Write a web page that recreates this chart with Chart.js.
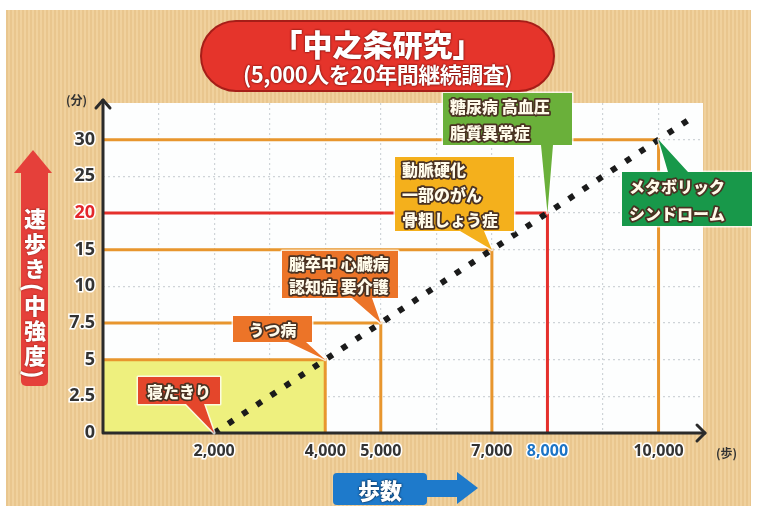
<!DOCTYPE html>
<html lang="ja">
<head>
<meta charset="utf-8">
<script src="https://cdn.jsdelivr.net/npm/chart.js@4.4.0/dist/chart.umd.min.js"></script>
<style>
  html, body { margin: 0; padding: 0; background: #fff; }
  #wrap { position: relative; width: 758px; height: 510px; overflow: hidden; font-family: "Noto Sans CJK JP", sans-serif; }
  #paper { position: absolute; left: 6px; top: 10px; width: 745px; height: 496px;
    background: repeating-linear-gradient(90deg, #E9C68E 0 2px, #F0D19D 2px 4px); }
  #chart { position: absolute; left: 0; top: 0; }
  .pill { position: absolute; left: 200px; top: 20px; width: 351px; height: 68px; border-radius: 36px;
    background: #E5342B; border: 2px solid #A61E18; color: #fff; text-align: center; font-weight: 900; }
  .pill .t1 { font-size: 30px; line-height: 34px; margin-top: 4px; text-shadow: 0 0 2px #7a120e, 0 0 2px #7a120e; }
  .pill .t2 { font-size: 22px; line-height: 26px; letter-spacing: -0.5px; font-weight: 700; text-shadow: 0 0 2px #7a120e, 0 0 2px #7a120e; }
  .unit { position: absolute; font-size: 12px; font-weight: 700; color: #333; }
  .uphead { position: absolute; left: 14px; top: 150px; width: 38px; height: 23px; background: #E5403A;
    clip-path: polygon(50% 0, 100% 100%, 0 100%); }
  .upbody { position: absolute; left: 21px; top: 172px; width: 27px; height: 214px; background: #E5403A;
    border-radius: 0 0 5px 5px; }
  .upbody span { position: absolute; left: 0; top: 36px; width: 27px; writing-mode: vertical-rl; white-space: nowrap;
    font-size: 22px; font-weight: 900; color: #fff; line-height: 27px; letter-spacing: 3px; text-shadow: 0 0 2px #7a1a12; }
  .xbox { position: absolute; left: 333px; top: 473px; width: 94px; height: 32px; background: #1E7ACB;
    border-radius: 4px; color: #fff; font-size: 22px; font-weight: 900; text-align: center; line-height: 32px;
    text-shadow: 0 0 2px #0b2f55, 0 0 2px #0b2f55; }
  .xshaft { position: absolute; left: 425px; top: 480px; width: 34px; height: 17px; background: #1E7ACB; }
  .xhead { position: absolute; left: 457px; top: 472px; width: 21px; height: 32px; background: #1E7ACB;
    clip-path: polygon(0 0, 100% 50%, 0 100%); }
</style>
</head>
<body>
<div id="wrap">
  <div id="paper"></div>
  <canvas id="chart" width="758" height="510"></canvas>
  <div class="pill"><div class="t1">「中之条研究」</div><div class="t2">(5,000人を20年間継続調査)</div></div>
  <div class="unit" style="left:66px; top:91px;">(分)</div>
  <div class="unit" style="left:716px; top:444px;">(歩)</div>
  <div class="uphead"></div>
  <div class="upbody"><span>速歩き(中強度)</span></div>
  <div class="xbox">歩数</div>
  <div class="xshaft"></div>
  <div class="xhead"></div>
</div>
<script>
// 1日の歩数と速歩き時間(分)
const stepCounts = [2000, 4000, 5000, 7000, 8000, 10000, 10600];
const walkMinutes = [0, 5, 7.5, 15, 20, 30, 33];
const diseaseLabels = [
    ['寝たきり'],
    ['うつ病'],
    ['脳卒中 心臓病', '認知症 要介護'],
    ['動脈硬化', '一部のがん', '骨粗しょう症'],
    ['糖尿病 高血圧', '脂質異常症'],
    ['メタボリック', 'シンドローム']
];
const yTickLabels = ['0', '2.5', '5', '7.5', '10', '15', '20', '25', '30'];
const xTickValues = [2000, 4000, 5000, 7000, 8000, 10000];
const goalIndex = 4; // 8,000歩・20分

// 縦軸は 0〜10 が 2.5刻み、10〜30 が 5刻みで等間隔
function minutesToPos(m) {
    return m <= 10 ? m / 2.5 : 4 + (m - 10) / 5;
}

// 吹き出しの位置と色 (ピクセル)
const calloutStyles = [
    { box: [138, 377, 82, 27], base: [186, 204], fill: '#E4462B', align: 'center' },
    { box: [233, 316, 79, 26], base: [288, 306], fill: '#EC7428', align: 'center' },
    { box: [282, 251, 116, 47], base: [352, 372], fill: '#EC7428', align: 'left' },
    { box: [395, 157, 119, 74], base: [460, 484], fill: '#F4B01C', align: 'left' },
    { box: [443, 93, 129, 52], base: [541, 553], fill: '#6AB03A', align: 'left' },
    { box: [622, 172, 130, 54], base: [668, 688], fill: '#18984A', align: 'left', top: true }
];

const orange = '#E8962E';
const red = '#E5302C';

const datasets = [];
datasets.push({
    data: stepCounts.map((s, i) => ({ x: s, y: minutesToPos(walkMinutes[i]) })),
    borderColor: '#1b1b1b',
    borderWidth: 6,
    borderDash: [6, 11],
    borderCapStyle: 'butt',
    pointRadius: 0,
    fill: false
});
for (let i = 1; i <= 5; i++) {
    const p = minutesToPos(walkMinutes[i]);
    datasets.push({
        data: [{ x: 0, y: p }, { x: stepCounts[i], y: p }, { x: stepCounts[i], y: 0 }],
        borderColor: i === goalIndex ? red : orange,
        borderWidth: 3,
        pointRadius: 0,
        fill: false
    });
}
datasets.push({
    data: [{ x: 0, y: minutesToPos(walkMinutes[1]) }, { x: stepCounts[1], y: minutesToPos(walkMinutes[1]) }],
    borderWidth: 0,
    pointRadius: 0,
    backgroundColor: '#EEF07E',
    fill: 'origin'
});

function outlinedText(ctx, txt, x, y, fill, stroke, w) {
    ctx.lineJoin = 'round';
    ctx.lineWidth = w;
    ctx.strokeStyle = stroke;
    ctx.strokeText(txt, x, y);
    ctx.fillStyle = fill;
    ctx.fillText(txt, x, y);
}

const paperPlugin = {
    id: 'paper',
    beforeDraw(chart) {
        const { ctx, chartArea: a } = chart;
        ctx.save();
        ctx.fillStyle = '#FDFEFE';
        ctx.fillRect(a.left, a.top, a.right - a.left, a.bottom - a.top);
        ctx.restore();
    }
};

const overlayPlugin = {
    id: 'overlay',
    afterDatasetsDraw(chart) {
        const { ctx, chartArea: a } = chart;
        const xs = chart.scales.x, ys = chart.scales.y;
        ctx.save();
        // 軸と矢印
        ctx.strokeStyle = '#2b2b2b';
        ctx.lineWidth = 3;
        ctx.lineCap = 'round';
        ctx.lineJoin = 'round';
        ctx.beginPath();
        ctx.moveTo(a.left, a.top - 3);
        ctx.lineTo(a.left, a.bottom);
        ctx.lineTo(a.right + 2, a.bottom);
        ctx.stroke();
        ctx.beginPath();
        ctx.moveTo(a.left - 7, a.top + 5);
        ctx.lineTo(a.left, a.top - 3);
        ctx.lineTo(a.left + 7, a.top + 5);
        ctx.moveTo(a.right - 6, a.bottom - 8);
        ctx.lineTo(a.right + 2, a.bottom);
        ctx.lineTo(a.right - 6, a.bottom + 8);
        ctx.stroke();

        // 吹き出し
        calloutStyles.forEach((c, i) => {
            const [bx, by, bw, bh] = c.box;
            const ax = xs.getPixelForValue(stepCounts[i]);
            const ay = ys.getPixelForValue(minutesToPos(walkMinutes[i]));
            const baseY = c.top ? by : by + bh;
            const shape = () => {
                ctx.beginPath();
                ctx.rect(bx, by, bw, bh);
                ctx.moveTo(c.base[0], baseY);
                ctx.lineTo(ax, ay);
                ctx.lineTo(c.base[1], baseY);
                ctx.closePath();
            };
            shape();
            ctx.lineWidth = 3;
            ctx.strokeStyle = 'rgba(255,255,255,0.75)';
            ctx.stroke();
            shape();
            ctx.fillStyle = c.fill;
            ctx.fill();

            const lines = diseaseLabels[i];
            const lh = bh / lines.length;
            ctx.font = '900 16px "Noto Sans CJK JP"';
            ctx.textBaseline = 'middle';
            ctx.textAlign = c.align;
            const tx = c.align === 'center' ? bx + bw / 2 : bx + 7;
            lines.forEach((ln, k) => {
                outlinedText(ctx, ln, tx, by + lh * (k + 0.5) + 1, '#FFFBEA', '#4a3222', 3.5);
            });
        });
        ctx.restore();
    }
};

const ctx = document.getElementById('chart');
const chart = new Chart(ctx, {
    type: 'line',
    data: { datasets: datasets },
    options: {
        responsive: false,
        animation: false,
        devicePixelRatio: 1,
        layout: { padding: { left: 0, top: 103, right: 55, bottom: 0 } },
        plugins: { legend: { display: false }, tooltip: { enabled: false } },
        scales: {
            x: {
                type: 'linear',
                min: 0,
                max: 10800,
                afterFit(scale) { scale.height = 77; },
                // 1,000歩ごとの目盛り
                afterBuildTicks(scale) {
                    const t = [];
                    for (let v = 0; v <= 10000; v += 1000) t.push({ value: v });
                    scale.ticks = t;
                },
                grid: {
                    drawTicks: false,
                    lineWidth: 1.2,
                    color: c => (c.tick && c.tick.value > 0) ? '#cfd4d8' : 'rgba(0,0,0,0)'
                },
                border: { display: false, dash: [2, 3] },
                ticks: {
                    autoSkip: false,
                    maxRotation: 0,
                    padding: 9,
                    font: { family: '"Noto Sans", sans-serif', size: 16, weight: 'bold' },
                    color: c => c.tick && c.tick.value === stepCounts[goalIndex] ? '#1C74C6' : '#333',
                    textStrokeColor: '#fff',
                    textStrokeWidth: 3,
                    callback: v => xTickValues.includes(v) ? v.toLocaleString('en-US') : ''
                }
            },
            y: {
                type: 'linear',
                min: 0,
                max: 9,
                afterFit(scale) { scale.width = 103; },
                grid: {
                    drawTicks: false,
                    lineWidth: 1.2,
                    color: c => (c.tick && c.tick.value > 0 && c.tick.value < 9) ? '#cfd4d8' : 'rgba(0,0,0,0)'
                },
                border: { display: false, dash: [2, 3] },
                ticks: {
                    stepSize: 1,
                    maxTicksLimit: 20,
                    padding: 8,
                    font: { family: '"Noto Sans", sans-serif', size: 18, weight: 'bold' },
                    color: c => c.tick && yTickLabels[c.tick.value] === String(walkMinutes[goalIndex]) ? '#E3262B' : '#333',
                    textStrokeColor: '#fff',
                    textStrokeWidth: 3,
                    callback: v => yTickLabels[v] !== undefined ? yTickLabels[v] : ''
                }
            }
        }
    },
    plugins: [paperPlugin, overlayPlugin]
});
</script>
</body>
</html>
